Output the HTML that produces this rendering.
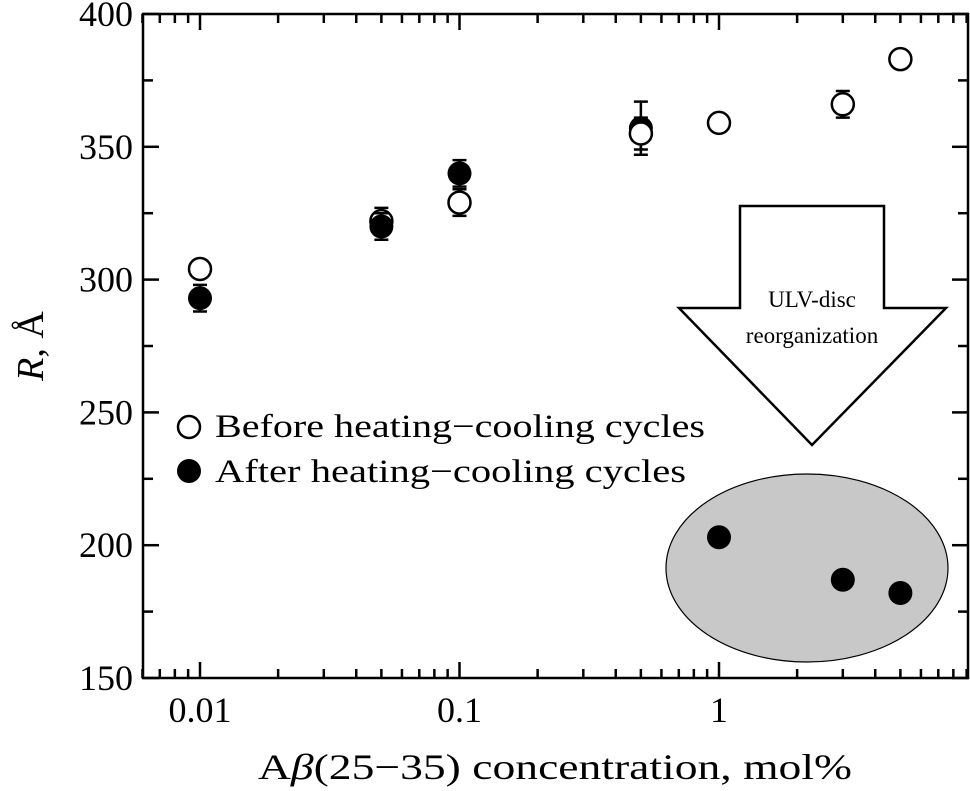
<!DOCTYPE html>
<html><head><meta charset="utf-8"><style>
html,body{margin:0;padding:0;background:#fff}
svg{display:block;font-family:"Liberation Serif","DejaVu Serif",serif}
</style></head><body>
<svg id="chart" width="970" height="791" viewBox="0 0 970 791">
<g id="axes"></g>
<g id="marks"></g>
<g>
<polygon points="740,206 884,206 884,308 946,308 812,445 679,308 740,308" fill="#fff" stroke="#000" stroke-width="2.5"/>
<text x="812" y="307" font-size="23" text-anchor="middle">ULV-disc</text>
<text x="812" y="343" font-size="23" text-anchor="middle">reorganization</text>
</g>
<ellipse cx="807" cy="568" rx="141" ry="94" fill="#c8c8c8" stroke="#000" stroke-width="1.2"/>
<g id="marks2"></g>
<g>
<circle cx="189" cy="427" r="11" fill="#fff" stroke="#000" stroke-width="2.5"/>
<text x="215" y="437" font-size="33" textLength="490" lengthAdjust="spacingAndGlyphs">Before heating−cooling cycles</text>
<circle cx="189" cy="471" r="12" fill="#000"/>
<text x="215" y="482" font-size="33" textLength="471" lengthAdjust="spacingAndGlyphs">After heating−cooling cycles</text>
</g>
<text x="258" y="779" font-size="36" textLength="594" lengthAdjust="spacingAndGlyphs">A<tspan font-style="italic">β</tspan>(25−35) concentration, mol%</text>
<text transform="translate(43,346) rotate(-90)" font-size="38" text-anchor="middle"><tspan font-style="italic">R</tspan>, Å</text>
<rect x="143" y="14" width="825" height="664" fill="none" stroke="#000" stroke-width="2.5"/>
</svg>
<script>
const xBefore=[0.01,0.05,0.1,0.5,1,3,5];
const yBefore=[304,322,329,355,359,366,383];
const eBefore=[0,5,5,6,0,5,0];
const xAfter=[0.01,0.05,0.1,0.5];
const yAfter=[293,320,340,357];
const eAfter=[5,5,5,10];
const xDisc=[1,3,5];
const yDisc=[203,187,182];
const yTicks=[150,200,250,300,350,400];
const xTickLabels=["0.01","0.1","1"];
const xTickVals=[0.01,0.1,1];

const L=143,R=968,T=14,B=678;
const sx=v=>200+(Math.log10(v)+2)*259.5;
const sy=v=>T+(400-v)*(B-T)/250;
const NS="http://www.w3.org/2000/svg";
function mk(tag,attrs,parent){const e=document.createElementNS(NS,tag);for(const k in attrs)e.setAttribute(k,attrs[k]);parent.appendChild(e);return e;}
const ax=document.getElementById('axes'),mg=document.getElementById('marks'),mg2=document.getElementById('marks2');
for(let v=150;v<=400;v+=25){
  const major=v%50===0,len=major?16:10,y=sy(v);
  const t1=mk('line',{x1:L,x2:L+len,y1:y,y2:y,stroke:'#000','stroke-width':2.5},ax);
  
  
  const t2=mk('line',{x1:R-len,x2:R,y1:y,y2:y,stroke:'#000','stroke-width':2.5},ax);
  
  
}
yTicks.forEach(v=>{
  const t=mk('text',{x:L-10,y:sy(v)+12,'font-size':36,'text-anchor':'end'},ax);
  t.textContent=v;
  
  
});
for(let d=-3;d<=0;d++){for(let m=1;m<=9;m++){
  const v=m*Math.pow(10,d);if(v<0.006||v>9.1)continue;
  const x=sx(v),len=m===1?16:9;
  const a=mk('line',{x1:x,x2:x,y1:B,y2:B-len,stroke:'#000','stroke-width':2.5},ax);
  
  
  const b=mk('line',{x1:x,x2:x,y1:T,y2:T+len,stroke:'#000','stroke-width':2.5},ax);
  
  
}}
xTickVals.forEach((v,i)=>{
  const t=mk('text',{x:sx(v),y:B+44,'font-size':36,'text-anchor':'middle'},ax);
  t.textContent=xTickLabels[i];
  
  
});
function err(x,y,e,g){if(!e)return;const X=sx(x),y1=sy(y+e),y2=sy(y-e);
  const l=mk('path',{d:`M${X},${y1}V${y2}M${X-7},${y1}H${X+7}M${X-7},${y2}H${X+7}`,stroke:'#000','stroke-width':2.5,fill:'none'},g);
  
  }
function drawBefore(i){err(xBefore[i],yBefore[i],eBefore[i],mg);
  const c=mk('circle',{cx:sx(xBefore[i]),cy:sy(yBefore[i]),r:11,fill:'#fff',stroke:'#000','stroke-width':2.5},mg);
  
  }
function drawAfter(i){err(xAfter[i],yAfter[i],eAfter[i],mg);
  const c=mk('circle',{cx:sx(xAfter[i]),cy:sy(yAfter[i]),r:12,fill:'#000'},mg);
  
  }
xBefore.forEach((x,i)=>{if(x<0.3)drawBefore(i);});
xAfter.forEach((x,i)=>drawAfter(i));
xBefore.forEach((x,i)=>{if(x>=0.3)drawBefore(i);});
xDisc.forEach((x,i)=>{
  const c=mk('circle',{cx:sx(x),cy:sy(yDisc[i]),r:12,fill:'#000'},mg2);
  
  });
</script>
</body></html>
